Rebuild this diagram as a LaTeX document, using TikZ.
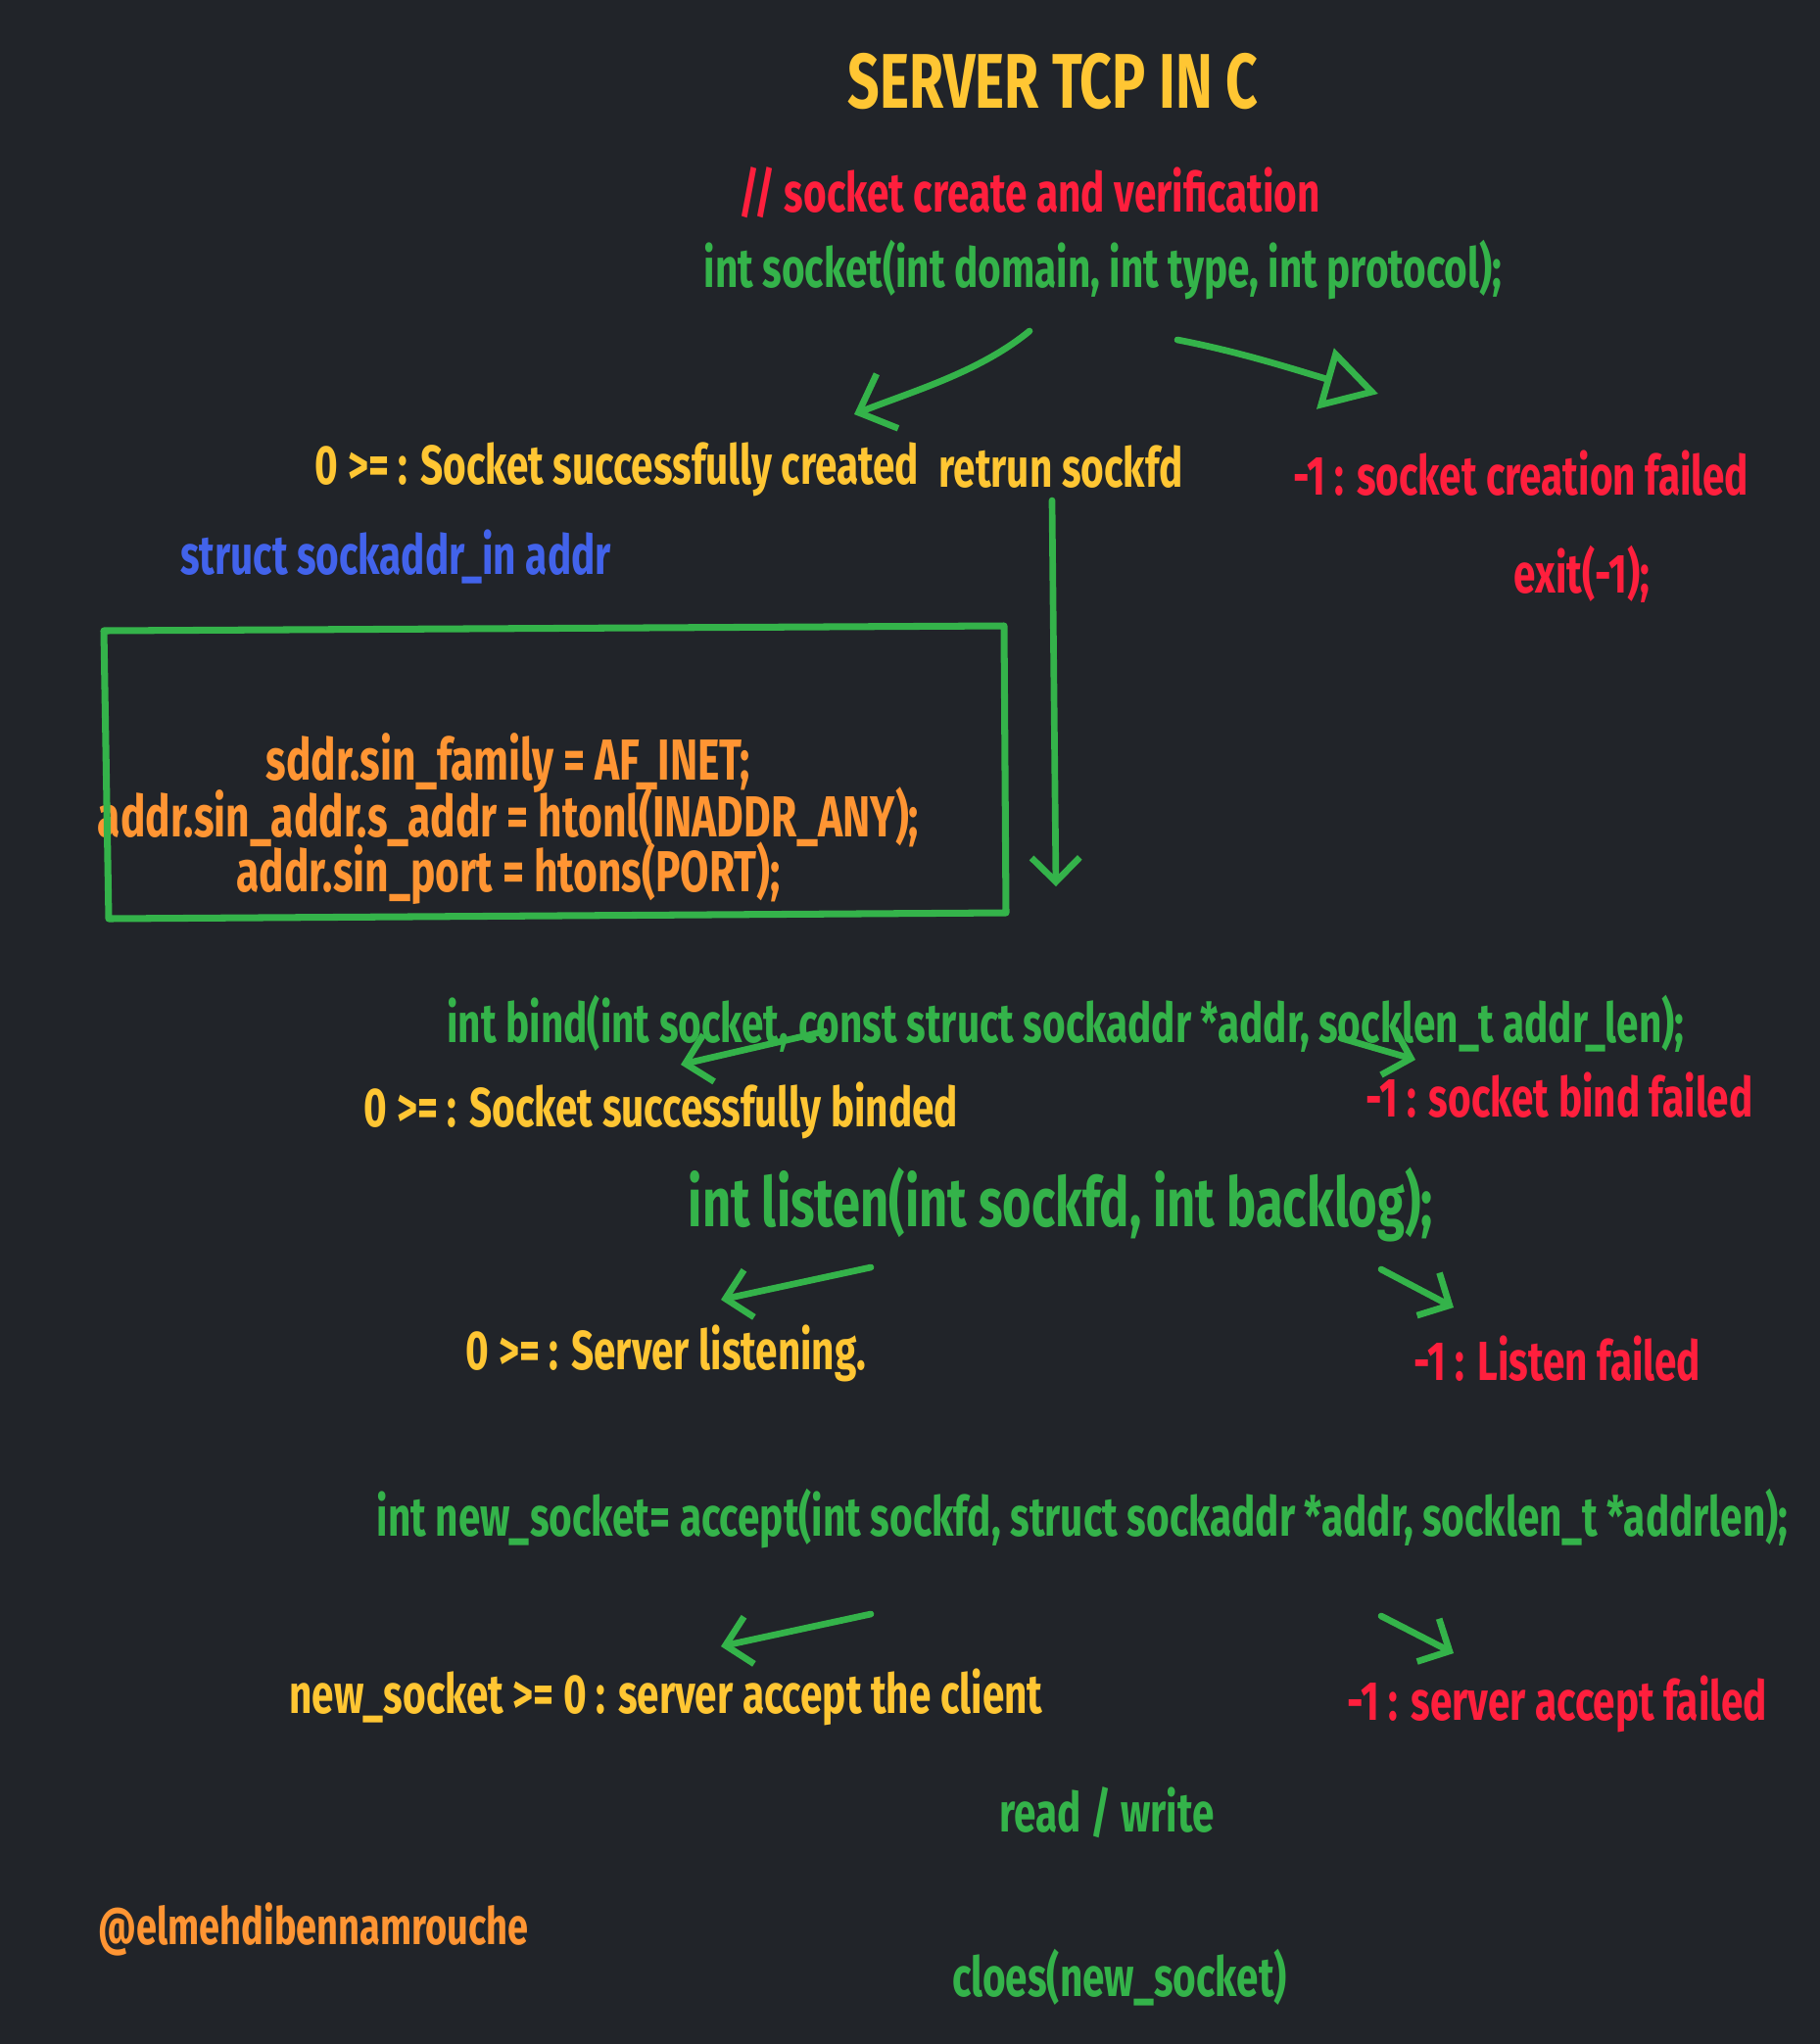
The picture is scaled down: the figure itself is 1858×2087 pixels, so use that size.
\documentclass[tikz,border=0pt]{standalone}
\usepackage{fontspec}
\setmainfont{Fira Sans}[FakeStretch=0.72]
\usetikzlibrary{arrows.meta}
\definecolor{bg}{HTML}{212429}
\definecolor{codegreen}{HTML}{34B34A}
\definecolor{okyellow}{HTML}{FFC633}
\definecolor{failred}{HTML}{FF1F3D}
\definecolor{initorange}{HTML}{FF9533}
\definecolor{structblue}{HTML}{4263EB}

\begin{document}
\begin{tikzpicture}[x=0.01cm,y=-0.01cm,line cap=round,line join=round]
  \tikzstyle{every node}=[inner sep=0pt]
  \tikzstyle{call}=[text=codegreen,font=\bfseries\fontsize{16}{19}\selectfont]
  \tikzstyle{ok}=[text=okyellow,font=\bfseries\fontsize{16}{19}\selectfont]
  \tikzstyle{fail}=[text=failred,font=\bfseries\fontsize{16}{19}\selectfont]
  \tikzstyle{flow}=[draw=codegreen,line width=1.9pt,-{Straight Barb[length=7pt,width=14pt]}]

  \fill[bg] (0,0) rectangle (1858,2087);
  \useasboundingbox (0,0) rectangle (1858,2087);

  \node[text=okyellow,font=\bfseries\fontsize{22.5}{26}\selectfont] (title) at (1075,83) {SERVER TCP IN C};
  \node[fail]                 (comment)    at (1051,197)  {// socket create and verification};
  \node[call]                 (socket)     at (1126,276)  {int socket(int domain, int type, int protocol);};
  \node[ok]                   (created)    at (630,479)   {0 >= : Socket successfully created};
  \node[ok]                   (retfd)      at (1083,477)  {retrun sockfd};
  \node[fail]                 (crfail)     at (1553,483)  {-1 : socket creation failed};
  \node[call,text=structblue] (sockin)     at (404,568)   {struct sockaddr\_in addr};
  \node[fail]                 (exitn)      at (1615,586)  {exit(-1);};
  \node[ok,text=initorange,align=center,font=\bfseries\fontsize{16.8}{16}\selectfont]
                              (init)       at (519,836)   {sddr.sin\_family = AF\_INET;\\[-2.6pt]addr.sin\_addr.s\_addr = htonl(INADDR\_ANY);\\[-2.6pt]addr.sin\_port = htons(PORT);};
  \node[call]                 (bind)       at (1088,1045) {int bind(int socket, const struct sockaddr *addr, socklen\_t addr\_len);};
  \node[ok]                   (binded)     at (675,1134)  {0 >= : Socket successfully binded};
  \node[fail]                 (bindfail)   at (1592,1118) {-1 : socket bind failed};
  \node[call,font=\bfseries\fontsize{20}{23}\selectfont]
                              (listen)     at (1083,1230) {int listen(int sockfd, int backlog);};
  \node[ok]                   (listening)  at (680,1382)  {0 >= : Server listening.};
  \node[fail]                 (listenfail) at (1590,1387) {-1 : Listen failed};
  \node[call]                 (accept)     at (1105,1551) {int new\_socket= accept(int sockfd, struct sockaddr *addr, socklen\_t *addrlen);};
  \node[ok]                   (accepted)   at (680,1733)  {new\_socket >= 0 : server accept the client};
  \node[fail]                 (acceptfail) at (1590,1740) {-1 : server accept failed};
  \node[call]                 (rw)         at (1130,1851) {read / write};
  \node[ok,text=initorange,font=\bfseries\fontsize{15}{18}\selectfont]
                              (handle)     at (320,1970)  {@elmehdibennamrouche};
  \node[call]                 (closen)     at (1143,2019) {cloes(new\_socket)};

  % hand drawn frame round the address setup
  \draw[codegreen,line width=2pt] (106,644) -- (1025,639) -- (1027,932) -- (111,938) -- cycle;

  % arrow ends
  \coordinate (sockL) at (1051,338);  \coordinate (sockLe) at (872,423);
  \coordinate (sockR) at (1202,347);  \coordinate (sockRe) at (1407,402);
  \coordinate (fdA)   at (1074,511);  \coordinate (fdB)    at (1078,905);
  \coordinate (bindL) at (842,1053);  \coordinate (bindLe) at (695,1087);
  \coordinate (bindR) at (1369,1060); \coordinate (bindRe) at (1445,1082);
  \coordinate (lisL)  at (889,1294);  \coordinate (lisLe)  at (736,1327);
  \coordinate (lisR)  at (1410,1296); \coordinate (lisRe)  at (1484,1335);
  \coordinate (accL)  at (889,1648);  \coordinate (accLe)  at (736,1681);
  \coordinate (accR)  at (1410,1650); \coordinate (accRe)  at (1484,1688);

  \draw[flow,-{Straight Barb[length=9pt,width=17pt]}] (sockL) .. controls (1000,380) and (930,400) .. (sockLe);
  \draw[flow,-{Triangle[open,length=16pt,width=18pt]}] (sockR) .. controls (1270,360) and (1330,380) .. (sockRe);
  \path (fdA)   edge[flow] (fdB)
        (bindL) edge[flow] (bindLe)
        (bindR) edge[flow] (bindRe)
        (lisL)  edge[flow] (lisLe)
        (lisR)  edge[flow] (lisRe)
        (accL)  edge[flow] (accLe)
        (accR)  edge[flow] (accRe);
\end{tikzpicture}
\end{document}
